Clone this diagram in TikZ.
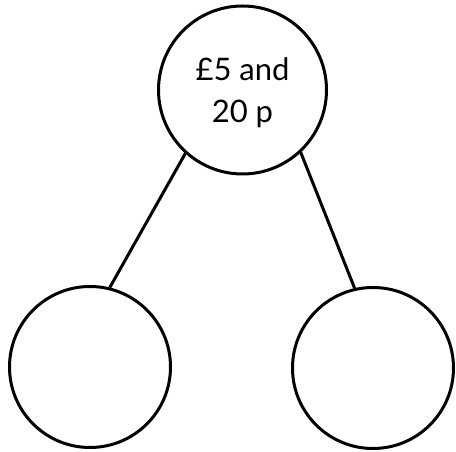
\documentclass[tikz,border=0pt]{standalone}
\usepackage{fontspec}
\setmainfont{Lato}
\usepackage{tikz}
\usetikzlibrary{positioning}

\begin{document}
\begin{tikzpicture}[x=1pt,y=1pt,
    whole/.style={circle,draw,line width=3pt,minimum size=168pt,inner sep=0pt},
    part/.style={circle,draw,line width=3pt,minimum size=161pt,inner sep=0pt},
    amount/.style={align=center,font=\fontsize{31}{42}\selectfont},
    link/.style={line width=3pt}]
\useasboundingbox (0,0) rectangle (456,452);
% whole and its two parts
\node[whole] (total) at (242.5,362) {};
\node[amount] (label) at ([yshift=-3pt]total.center) {£5 and\\20 p};
\node[part] (partA) at (90,85) {};
\node[part] (partB) at (373,84) {};
\draw[link] (total.228) -- (partA.76);
\draw[link] (total.313) -- (partB.103);
\end{tikzpicture}
\end{document}
